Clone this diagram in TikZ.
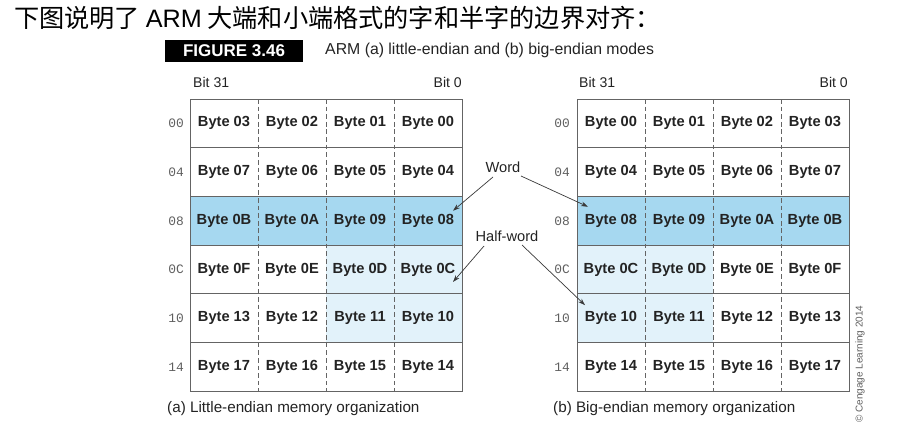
\documentclass[tikz,border=0pt]{standalone}
\usepackage{fontspec}
\setmainfont{Liberation Sans}
\setmonofont{Liberation Mono}
\newfontfamily\cjkfont{Noto Sans CJK SC}
\usetikzlibrary{arrows.meta,positioning,calc,backgrounds}
\definecolor{wordblue}{RGB}{166,216,240}
\definecolor{halfblue}{RGB}{226,242,250}
\definecolor{gridgrey}{RGB}{100,100,100}
\definecolor{addrgrey}{RGB}{95,95,95}
\definecolor{inkdark}{RGB}{35,35,35}
\tikzset{
    cell/.style={minimum width=2.04cm, minimum height=1.461cm,
                 inner sep=0pt, outer sep=0pt, text=inkdark,
                 font=\fontsize{12.5}{14}\selectfont\bfseries},
    addr/.style={font=\ttfamily\fontsize{11}{12}\selectfont, text=addrgrey},
    bitlbl/.style={inner sep=0pt, text=inkdark,
                   font=\fontsize{12}{14}\selectfont},
    caplbl/.style={inner sep=0pt, anchor=west, text=inkdark,
                   font=\fontsize{13}{15}\selectfont},
    gridline/.style={gridgrey, line width=0.8pt},
    ptr/.style={-{Stealth[length=6pt,width=4pt]}, line width=0.6pt,
                draw=inkdark!90},
}

\begin{document}
\begin{tikzpicture}[x=0.03cm, y=-0.03cm]
    \useasboundingbox (0,0) rectangle (918,444);

    % heading and figure title
    \node[inner sep=0pt, anchor=west, text=black,
          font=\cjkfont\fontsize{21.5}{24}\selectfont] (heading) at (14,18)
        {下图说明了 {\rmfamily ARM} 大端和小端格式的字和半字的边界对齐：};
    \node[fill=black, text=white, minimum width=4.14cm, minimum height=0.66cm,
          inner sep=0pt, font=\fontsize{14.5}{16}\selectfont\bfseries]
        (figtag) at (234,51) {FIGURE 3.46};
    \node[inner sep=0pt, anchor=west, text=inkdark,
          font=\fontsize{13.5}{16}\selectfont] (figtitle) at (325,50)
        {ARM (a) little-endian and (b) big-endian modes};

    % memory cells: little-endian (la) and big-endian (rb)
    \foreach \r/\addr/\lbytes/\rbytes in {
        0/00/{03,02,01,00}/{00,01,02,03},
        1/04/{07,06,05,04}/{04,05,06,07},
        2/08/{0B,0A,09,08}/{08,09,0A,0B},
        3/0C/{0F,0E,0D,0C}/{0C,0D,0E,0F},
        4/10/{13,12,11,10}/{10,11,12,13},
        5/14/{17,16,15,14}/{14,15,16,17}} {
        \node[addr] (la-addr-\r) at (176,{123.35+48.7*\r}) {\addr};
        \node[addr] (rb-addr-\r) at (562,{123.35+48.7*\r}) {\addr};
        \foreach \b [count=\c] in \lbytes
            \node[cell] (la-\r-\c) at ({156+68*\c},{123.35+48.7*\r}) {Byte \b};
        \foreach \b [count=\c] in \rbytes
            \node[cell] (rb-\r-\c) at ({543+68*\c},{123.35+48.7*\r}) {Byte \b};
    }

    \begin{scope}[on background layer]
        \fill[wordblue] (la-2-1.north west) rectangle (la-2-4.south east);
        \fill[wordblue] (rb-2-1.north west) rectangle (rb-2-4.south east);
        \fill[halfblue] (la-3-3.north west) rectangle (la-4-4.south east);
        \fill[halfblue] (rb-3-1.north west) rectangle (rb-4-2.south east);
    \end{scope}

    % grid lines
    \foreach \g in {la,rb} {
        \draw[gridline] (\g-0-1.north west) rectangle (\g-5-4.south east);
        \foreach \r in {0,...,4}
            \draw[gridline] (\g-\r-1.south west) -- (\g-\r-4.south east);
        \foreach \c in {1,2,3}
            \draw[gridline, dash pattern=on 4pt off 2.5pt]
                (\g-0-\c.north east) -- (\g-5-\c.south east);
    }

    % bit numbers
    \node[bitlbl, anchor=west] (la-bit31) at (193,82) {Bit 31};
    \node[bitlbl, anchor=east] (la-bit0) at (462,82) {Bit 0};
    \node[bitlbl, anchor=west] (rb-bit31) at (579,82) {Bit 31};
    \node[bitlbl, anchor=east] (rb-bit0) at (848,82) {Bit 0};

    % word and half-word pointers
    \node[bitlbl, font=\fontsize{12.5}{14}\selectfont] (word) at (503,167) {Word};
    \node[bitlbl, font=\fontsize{12.5}{14}\selectfont] (half) at (507,236) {Half-word};
    \draw[ptr] ($(word.center)+(-10,10)$) -- ($(la-2-4.center)+(25,-10)$);
    \draw[ptr] ($(word.center)+(18,9)$) -- ($(rb-2-1.center)+(-23,-14)$);
    \draw[ptr] ($(half.center)+(-23,10)$) -- ($(la-3-4.center)+(25,12.5)$);
    \draw[ptr] ($(half.center)+(15,9)$) -- ($(rb-4-1.center)+(-26,-13)$);

    % captions
    \node[caplbl] (la-caption) at (167,409) {(a) Little-endian memory organization};
    \node[caplbl] (rb-caption) at (553,409) {(b) Big-endian memory organization};
    \node[rotate=90, inner sep=0pt, text=addrgrey,
          font=\fontsize{8.5}{10}\selectfont] (credit) at (860,364)
        {\textcopyright{} Cengage Learning 2014};
\end{tikzpicture}
\end{document}
